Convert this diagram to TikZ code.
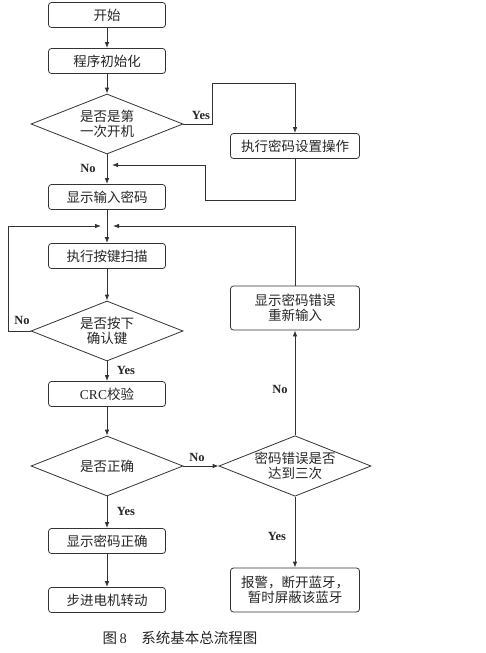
\documentclass[tikz,border=0pt]{standalone}
\usepackage{fontspec}
\setmainfont{Liberation Serif}
\newfontfamily\cjk{Noto Sans CJK SC}
\usepackage{tikz}
\usetikzlibrary{shapes}
\usetikzlibrary{positioning, fit, arrows.meta}

\begin{document}
\begin{tikzpicture}[x=1pt, y=-1pt, >={Latex[length=6pt,width=4.5pt]}, % Arrow tip style
        every node/.style={font=\cjk\fontsize{13.5}{15.5}\selectfont, text=black!85},
        procbox/.style={draw=black!80, line width=0.8pt, rounded corners=3pt, minimum width=117pt, minimum height=25pt, inner sep=1pt, align=center},
        widebox/.style={procbox, minimum width=129pt},
        decide/.style={draw=black!80, line width=0.8pt, diamond, aspect=2.5, minimum width=152pt, minimum height=60pt, inner sep=0pt, align=center},
        flow/.style={draw=black!80, line width=0.8pt, ->},
        answer/.style={font=\bfseries\fontsize{12.5}{14}\selectfont}]
                \fill[white] (0,0) rectangle (485,653);
                \useasboundingbox (0,0) rectangle (485,653);

                % Main column of steps
                \node[procbox] (start) at (107,15) {开始};
                \node[procbox] (init) at (107,61) {程序初始化};
                \node[decide] (first) at (107,124) {是否是第\\一次开机};
                \node[procbox] (input) at (107,197) {显示输入密码};
                \node[procbox] (scan) at (107,256) {执行按键扫描};
                \node[decide] (confirm) at (107,331) {是否按下\\确认键};
                \node[procbox] (crc) at (107,394) {{\rmfamily CRC}校验};
                \node[decide] (right) at (107,466) {是否正确};
                \node[procbox] (okpw) at (107,541) {显示密码正确};
                \node[procbox] (motor) at (107,600) {步进电机转动};

                % Right column of steps
                \node[widebox] (setpw) at (295,146) {执行密码设置操作};
                \node[widebox, minimum height=44pt] (errpw) at (295,308) {显示密码错误\\重新输入};
                \node[decide] (three) at (295,466) {密码错误是否\\达到三次};
                \node[widebox, minimum height=44pt] (alarm) at (295,590) {报警，断开蓝牙，\\暂时屏蔽该蓝牙};

                % Turning points of the side lines
                \coordinate (yesturn) at (212,83);
                \coordinate (backturn) at (205,200);
                \coordinate (backin) at (112,165);
                \coordinate (loopL) at (8,226);
                \coordinate (loopLin) at (101,226);
                \coordinate (loopRin) at (113,226);

                % Draw the main flow with arrows
                \draw[flow] (start) -- (init);
                \draw[flow] (init) -- (first);
                \draw[flow] (first) -- (input);
                \draw[flow] (input) -- (scan);
                \draw[flow] (scan) -- (confirm);
                \draw[flow] (confirm) -- (crc);
                \draw[flow] (crc) -- (right);
                \draw[flow] (right) -- (okpw);
                \draw[flow] (okpw) -- (motor);

                % First start: set the password, then back to the main line
                \draw[flow] (first.east) -| (yesturn) -| (setpw.north);
                \draw[flow] (setpw.south) |- (backturn) |- (backin);

                % Loops back to the key scan
                \draw[flow] (confirm.west) -| (loopL) -- (loopLin);
                \draw[flow] (errpw.north) |- (loopRin);

                % Wrong password branch
                \draw[flow] (right) -- (three);
                \draw[flow] (three) -- (errpw);
                \draw[flow] (three) -- (alarm);

                % Yes / No labels
                \node[answer] (yes1) at (201,115) {Yes};
                \node[answer] (no1) at (88,168) {No};
                \node[answer] (no2) at (22,320) {No};
                \node[answer] (yes2) at (126,370) {Yes};
                \node[answer] (no3) at (280,389) {No};
                \node[answer] (no4) at (197,457) {No};
                \node[answer] (yes3) at (126,511) {Yes};
                \node[answer] (yes4) at (277,536) {Yes};

                % Caption
                \node[font=\cjk\fontsize{14.5}{16}\selectfont] (caption) at (180,638) {图{\rmfamily\,8}\quad 系统基本总流程图};
            \end{tikzpicture}
\end{document}
